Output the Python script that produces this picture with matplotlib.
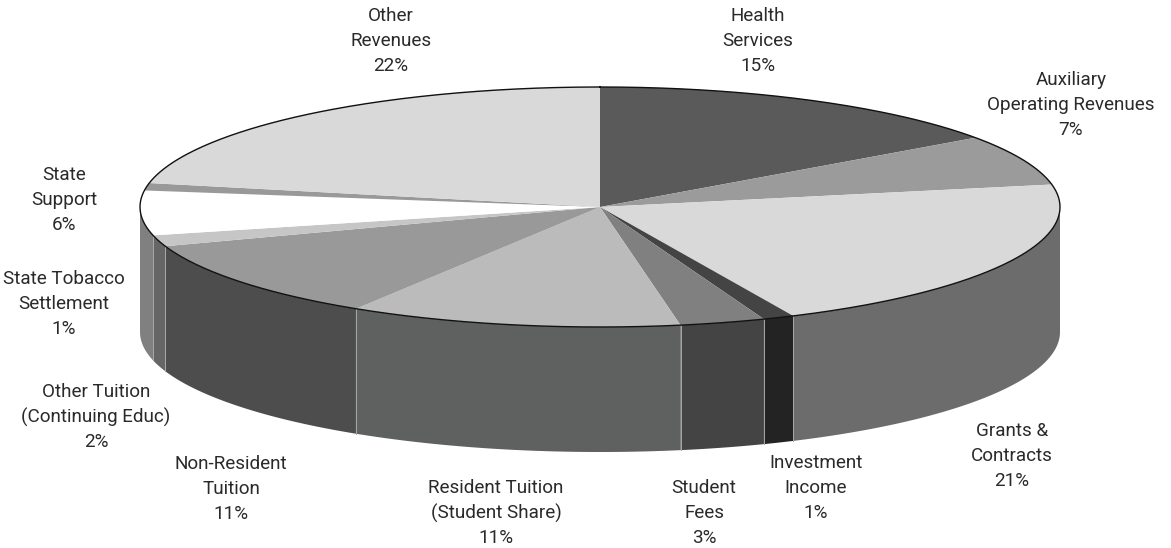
import matplotlib
matplotlib.use("Agg")
import matplotlib.pyplot as plt
import numpy as np

plt.rcParams["font.family"] = ["Roboto", "Liberation Sans", "DejaVu Sans"]

# clockwise from 12 o'clock, shares (labels are rounded)
names = ["Health\nServices", "Auxiliary\nOperating Revenues", "Grants &\nContracts",
         "Investment\nIncome", "Student\nFees", "Resident Tuition\n(Student Share)",
         "Non-Resident\nTuition", "Other Tuition\n(Continuing Educ)", "State\nSupport",
         "State Tobacco\nSettlement", "Other\nRevenues"]
shares = [15.2, 6.8, 21.1, 1.1, 3.0, 11.7, 10.8, 1.5, 6.0, 1.0, 21.8]
labels = ["15%", "7%", "21%", "1%", "3%", "11%", "11%", "2%", "6%", "1%", "22%"]
top_colors = ["#5a5a5a", "#9b9b9b", "#d9d9d9", "#444444", "#808080", "#bbbbbb",
              "#999999", "#c6c6c6", "#ffffff", "#999999", "#d9d9d9"]
side_colors = ["#5a5a5a", "#808080", "#6c6c6c", "#232323", "#444444", "#5f6160",
               "#4d4d4d", "#666666", "#808080", "#808080", "#808080"]
label_pos = [(758, 41), (1071, 105), (1012, 456), (816, 488), (704, 513), (496, 513),
             (231, 489), (96, 417), (64, 200), (64, 304), (391, 41)]
# no light seam on the wall where Grants ends
seams = [False, False, False, True, True, True, True, True, True, False, False]

cx, cy, a, b, depth = 600, 207, 460, 120, 125


def rim(t):
    return cx + a * np.sin(t), cy - b * np.cos(t)


fig = plt.figure(figsize=(11.71, 5.48), dpi=100)
ax = fig.add_axes([0, 0, 1, 1])
ax.set_xlim(0, 1171)
ax.set_ylim(548, 0)
ax.axis("off")

edges = np.cumsum([0] + shares) / sum(shares) * 2 * np.pi

# side wall first, only the front half shows
for i in range(len(shares)):
    t0, t1 = max(edges[i], np.pi / 2), min(edges[i + 1], 3 * np.pi / 2)
    if t1 <= t0:
        continue
    t = np.linspace(t0, t1, 80)
    x, y = rim(t)
    ax.fill(np.r_[x, x[::-1]], np.r_[y, y[::-1] + depth], color=side_colors[i], lw=0, zorder=1)
for i in range(len(shares)):
    if seams[i]:
        x, y = rim(edges[i])
        ax.plot([x, x], [y, y + depth], color="#a8a8a8", lw=0.7, zorder=2)

# top face
for i in range(len(shares)):
    t = np.linspace(edges[i], edges[i + 1], 120)
    x, y = rim(t)
    ax.fill(np.r_[cx, x], np.r_[cy, y], color=top_colors[i], lw=0, zorder=3)

t = np.linspace(0, 2 * np.pi, 720)
ax.plot(*rim(t), color="#111111", lw=1.0, zorder=4)

for name, lab, (px, py) in zip(names, labels, label_pos):
    ax.text(px, py, name + "\n" + lab, ha="center", va="center", fontsize=13.6,
            color="#2a2a2a", linespacing=1.47, zorder=5)

fig.savefig("out.png", dpi=100)
plt.close(fig)
